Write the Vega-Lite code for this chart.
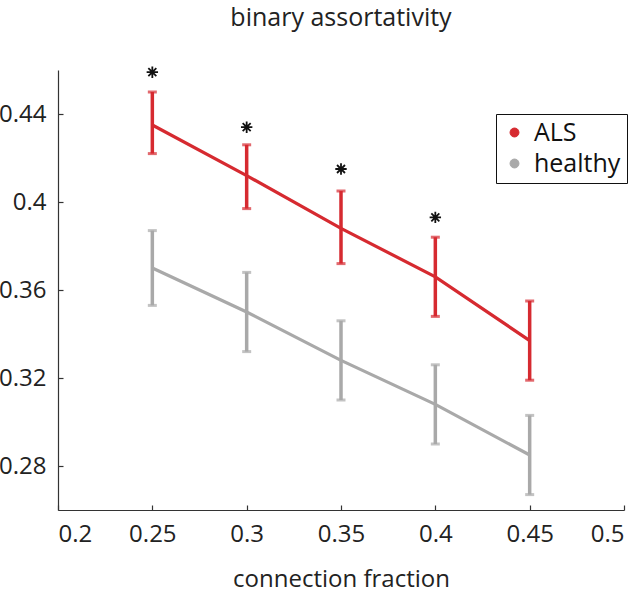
{
  "$schema": "https://vega.github.io/schema/vega-lite/v6.json",
  "width": 566,
  "height": 440,
  "autosize": {"type": "none"},
  "padding": {"left": 58, "top": 70, "right": 14, "bottom": 85},
  "background": "white",
  "config": {
    "view": {"stroke": null},
    "font": "Open Sans",
    "axis": {"grid": false, "domainColor": "#333", "tickColor": "#333", "labelColor": "#222", "titleColor": "#222", "labelFont": "Open Sans", "titleFont": "Open Sans", "labelFontSize": 24, "titleFontSize": 24, "titleFontWeight": "normal", "tickSize": -5, "domainWidth": 1.2, "tickWidth": 1.2}
  },
  "title": {"text": "binary assortativity", "fontSize": 25, "fontWeight": "normal", "font": "Open Sans", "color": "#222", "anchor": "middle", "offset": 32},
  "data": {"values": [
    {"group": "ALS", "fraction": 0.25, "mean": 0.435, "lo": 0.422, "hi": 0.450, "star": 0.459},
    {"group": "ALS", "fraction": 0.30, "mean": 0.412, "lo": 0.397, "hi": 0.426, "star": 0.434},
    {"group": "ALS", "fraction": 0.35, "mean": 0.388, "lo": 0.372, "hi": 0.405, "star": 0.415},
    {"group": "ALS", "fraction": 0.40, "mean": 0.366, "lo": 0.348, "hi": 0.384, "star": 0.393},
    {"group": "ALS", "fraction": 0.45, "mean": 0.337, "lo": 0.319, "hi": 0.355, "star": null},
    {"group": "healthy", "fraction": 0.25, "mean": 0.370, "lo": 0.353, "hi": 0.387, "star": null},
    {"group": "healthy", "fraction": 0.30, "mean": 0.350, "lo": 0.332, "hi": 0.368, "star": null},
    {"group": "healthy", "fraction": 0.35, "mean": 0.328, "lo": 0.310, "hi": 0.346, "star": null},
    {"group": "healthy", "fraction": 0.40, "mean": 0.308, "lo": 0.290, "hi": 0.326, "star": null},
    {"group": "healthy", "fraction": 0.45, "mean": 0.285, "lo": 0.267, "hi": 0.303, "star": null}
  ]},
  "encoding": {
    "x": {"field": "fraction", "type": "quantitative", "scale": {"domain": [0.2, 0.5], "nice": false, "zero": false},
      "axis": {"values": [0.2, 0.25, 0.3, 0.35, 0.4, 0.45, 0.5], "format": ".2~f", "title": "connection fraction", "labelPadding": 17, "titlePadding": 21}},
    "color": {"field": "group", "type": "nominal", "scale": {"domain": ["ALS", "healthy"], "range": ["#d62a30", "#a9a9a9"]},
      "legend": {"title": null, "orient": "none", "legendX": 438, "legendY": 44, "symbolType": "circle", "symbolSize": 80, "labelFontSize": 25, "labelFont": "Open Sans", "labelColor": "#111", "padding": 6, "rowPadding": 5, "strokeColor": "#111", "fillColor": "white", "labelOffset": 7,
        "encode": {"symbols": {"update": {"stroke": {"value": "#333"}, "strokeWidth": {"value": 1}, "fill": {"scale": "color", "field": "value"}, "opacity": {"value": 1}}}}}}
  },
  "layer": [
    {"mark": {"type": "rule", "strokeWidth": 3.5},
      "encoding": {"y": {"field": "lo", "type": "quantitative"}, "y2": {"field": "hi"}}},
    {"mark": {"type": "tick", "orient": "horizontal", "size": 9, "thickness": 3},
      "encoding": {"y": {"field": "lo", "type": "quantitative"}}},
    {"mark": {"type": "tick", "orient": "horizontal", "size": 9, "thickness": 3},
      "encoding": {"y": {"field": "hi", "type": "quantitative"}}},
    {"mark": {"type": "line", "strokeWidth": 3.2},
      "encoding": {"y": {"field": "mean", "type": "quantitative", "scale": {"domain": [0.26, 0.46], "nice": false, "zero": false},
        "axis": {"values": [0.28, 0.32, 0.36, 0.4, 0.44], "format": ".2~f", "title": null, "labelPadding": 17}}}},
    {"transform": [{"filter": "datum.star != null"}],
      "mark": {"type": "point", "shape": "M-1,0L1,0M0,-1L0,1M-0.7,-0.7L0.7,0.7M-0.7,0.7L0.7,-0.7", "size": 130, "filled": false, "stroke": "#111", "strokeWidth": 1.8, "opacity": 1},
      "encoding": {"y": {"field": "star", "type": "quantitative"}, "color": {"value": "#111"}}}
  ]
}
